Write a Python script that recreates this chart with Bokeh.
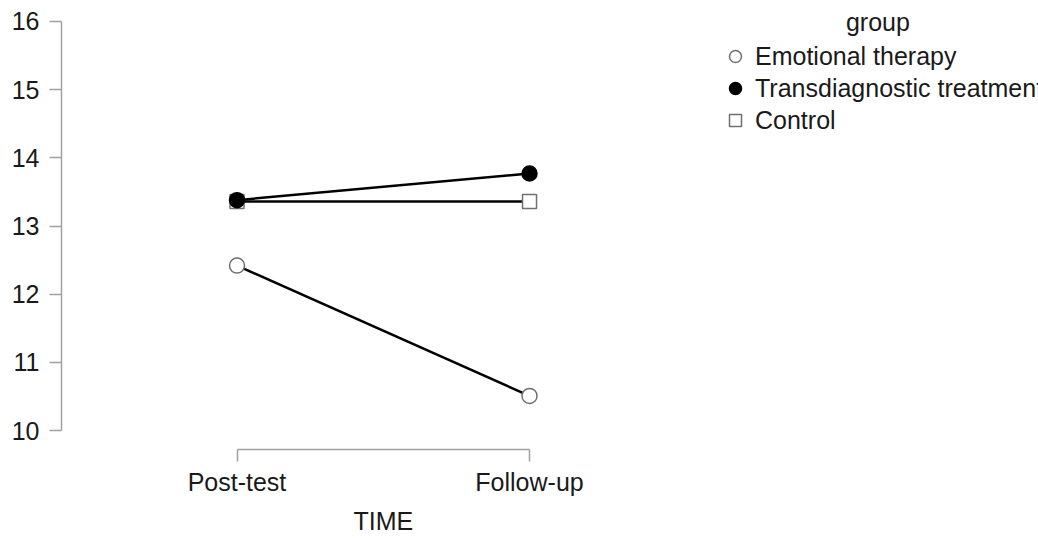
from bokeh.plotting import figure
from bokeh.models import Range1d, FixedTicker, Legend, LegendItem, Label, Title
from bokeh.embed import file_html
from bokeh.resources import INLINE

# ---- data ----
time_labels = ["Post-test", "Follow-up"]
time_pos = [0, 1]
group_names = ["Emotional therapy", "Transdiagnostic treatment", "Control"]
emotional = [12.42, 10.51]
transdiag = [13.38, 13.77]
control = [13.36, 13.36]
y_ticks = [10, 11, 12, 13, 14, 15, 16]

FONT = "Liberation Sans"
FS = "25px"

p = figure(width=1038, height=540, output_backend="svg", toolbar_location=None,
           x_range=Range1d(-0.600, 2.740), y_range=Range1d(9.724, 16.248),
           min_border_left=61, min_border_right=0, min_border_top=4, min_border_bottom=88)
p.outline_line_color = None
p.xgrid.visible = False
p.ygrid.visible = False
p.background_fill_color = "white"
p.border_fill_color = "white"

# axes
for ax in (p.xaxis[0], p.yaxis[0]):
    ax.axis_line_color = "#a0a0a0"
    ax.axis_line_width = 1.5
    ax.major_tick_line_color = "#a0a0a0"
    ax.major_tick_line_width = 1.5
    ax.major_tick_in = 0
    ax.major_tick_out = 12
    ax.minor_tick_line_color = None
    ax.major_label_text_font = FONT
    ax.major_label_text_font_size = FS
    ax.major_label_text_color = "#1a1a1a"

p.xaxis[0].ticker = FixedTicker(ticks=time_pos)
p.xaxis[0].major_label_overrides = {t: l for t, l in zip(time_pos, time_labels)}
p.xaxis[0].bounds = (time_pos[0], time_pos[-1])
p.xaxis[0].major_label_standoff = 6

p.yaxis[0].ticker = FixedTicker(ticks=y_ticks)
p.yaxis[0].bounds = (y_ticks[0], y_ticks[-1])
p.yaxis[0].major_label_standoff = 10

# x-axis title, placed under the two categories
p.add_layout(Title(text="TIME", align="left", offset=292, standoff=12,
                   text_font=FONT, text_font_size=FS, text_font_style="normal",
                   text_color="#1a1a1a"), "below")

# lines
for ys in (control, emotional, transdiag):
    p.line(time_pos, ys, line_color="black", line_width=2.5)

# markers
r_ctrl = p.scatter(time_pos, control, marker="square", size=14, fill_color="white",
                   line_color="#707070", line_width=1.5)
r_emo = p.scatter(time_pos, emotional, marker="circle", size=15, fill_color="white",
                  line_color="#707070", line_width=1.5)
r_tra = p.scatter(time_pos, transdiag, marker="circle", size=15, fill_color="black",
                  line_color="black", line_width=1.5)

legend = Legend(items=[LegendItem(label=group_names[0], renderers=[r_emo]),
                       LegendItem(label=group_names[1], renderers=[r_tra]),
                       LegendItem(label=group_names[2], renderers=[r_ctrl])],
                location=(659, 314), padding=0, margin=0, spacing=2,
                glyph_width=30, glyph_height=30, label_height=30, label_standoff=5,
                label_text_font=FONT, label_text_font_size=FS, label_text_color="#1a1a1a",
                border_line_color=None, background_fill_alpha=0)
p.add_layout(legend)

p.add_layout(Label(x=2.191, y=15.985, text="group", text_align="center",
                   text_baseline="alphabetic", text_font=FONT, text_font_size=FS,
                   text_color="#1a1a1a"))

open("out.html", "w").write(file_html(p, INLINE))
